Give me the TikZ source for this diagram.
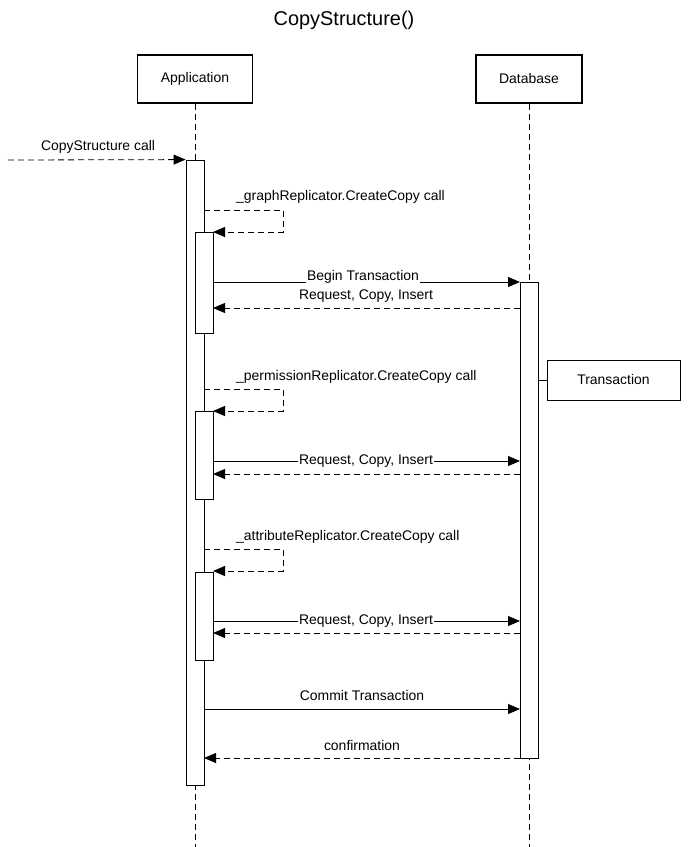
\documentclass[tikz,border=0pt]{standalone}
\usepackage{fontspec}
\setmainfont{Liberation Sans}
\usetikzlibrary{arrows.meta}
\begin{document}
\begin{tikzpicture}[x=1bp,y=-1bp,
  actor/.style={draw,line width=1.6bp,minimum width=115bp,minimum height=48bp,font=\fontsize{14}{16}\selectfont},
  act/.style={draw,fill=white,line width=0.8bp},
  life/.style={dashed,line width=0.8bp,dash pattern=on 6bp off 4bp},
  msg/.style={line width=0.8bp,-{Triangle[length=12bp,width=10bp]}},
  ret/.style={msg,dash pattern=on 6bp off 4bp},
  lbl/.style={font=\fontsize{14}{16}\selectfont,inner sep=1bp}]
\useasboundingbox (0,0) rectangle (688,847);
\node[font=\fontsize{20}{24}\selectfont] (title) at (344,20) {CopyStructure()};
\node[actor] (app) at (195,79) {Application};
\node[actor,minimum width=106bp] (db) at (529,79) {Database};
\coordinate (append) at (195,847);
\coordinate (dbend) at (529,847);
\draw[life] (app.south) -- (append);
\draw[life] (db.south) -- (dbend);
% activations
\node[act,minimum width=18bp,minimum height=625bp,inner sep=0] (a0) at (195,472.5) {};
\node[act,minimum width=18bp,minimum height=476bp,inner sep=0] (d0) at (529,520) {};
\node[act,minimum width=18bp,minimum height=101bp,inner sep=0] (a1) at (204,282.5) {};
\node[act,minimum width=18bp,minimum height=88bp,inner sep=0] (a2) at (204,455) {};
\node[act,minimum width=18bp,minimum height=88bp,inner sep=0] (a3) at (204,616) {};
% incoming
\coordinate (start) at (8,160);
\draw[ret] (start) -- (a0.north west);
\node[lbl] (l0) at (98,147) {CopyStructure call};
% self calls
\foreach \y/\n in {210/1,389/2,549/3}{
  \coordinate (s\n) at (204,\y);
  \coordinate (t\n) at (283,\y);
  \coordinate (u\n) at (283,\y+22);
  \coordinate (v\n) at (213,\y+22);
  \draw[ret] (s\n) -- (t\n) -- (u\n) -- (v\n);
}
\node[lbl,anchor=west] (l1) at (235,197) {\_graphReplicator.CreateCopy call};
\node[lbl,anchor=west] (l2) at (235,377) {\_permissionReplicator.CreateCopy call};
\node[lbl,anchor=west] (l3) at (235,537) {\_attributeReplicator.CreateCopy call};
% begin transaction
\coordinate (b1) at (213,282); \coordinate (b2) at (520,282);
\draw[msg] (b1) -- (b2);
\node[lbl,fill=white] (lb) at (363,277) {Begin Transaction};
\coordinate (r1) at (520,308); \coordinate (r2) at (213,308);
\draw[ret] (r1) -- (r2);
\node[lbl] (lr) at (366,296) {Request, Copy, Insert};
% transaction box
\node[draw,line width=0.8bp,minimum width=133bp,minimum height=40bp,font=\fontsize{14}{16}\selectfont] (tr) at (613.5,380) {Transaction};
\coordinate (tc) at (538,380);
\draw[line width=0.8bp] (tc) -- (tr.west);
% request blocks
\foreach \y/\z/\n in {461/474/a,621/633/b}{
  \coordinate (p\n) at (213,\y); \coordinate (q\n) at (520,\y);
  \draw[msg] (p\n) -- (q\n);
  \node[lbl,fill=white] (m\n) at (366,\y) {Request, Copy, Insert};
  \coordinate (x\n) at (520,\z); \coordinate (w\n) at (213,\z);
  \draw[ret] (x\n) -- (w\n);
}
% commit
\coordinate (c1) at (204,709); \coordinate (c2) at (520,709);
\draw[msg] (c1) -- (c2);
\node[lbl] (lc) at (362,696) {Commit Transaction};
\coordinate (f1) at (520,758); \coordinate (f2) at (204,758);
\draw[ret] (f1) -- (f2);
\node[lbl] (lf) at (362,746) {confirmation};
\end{tikzpicture}
\end{document}
